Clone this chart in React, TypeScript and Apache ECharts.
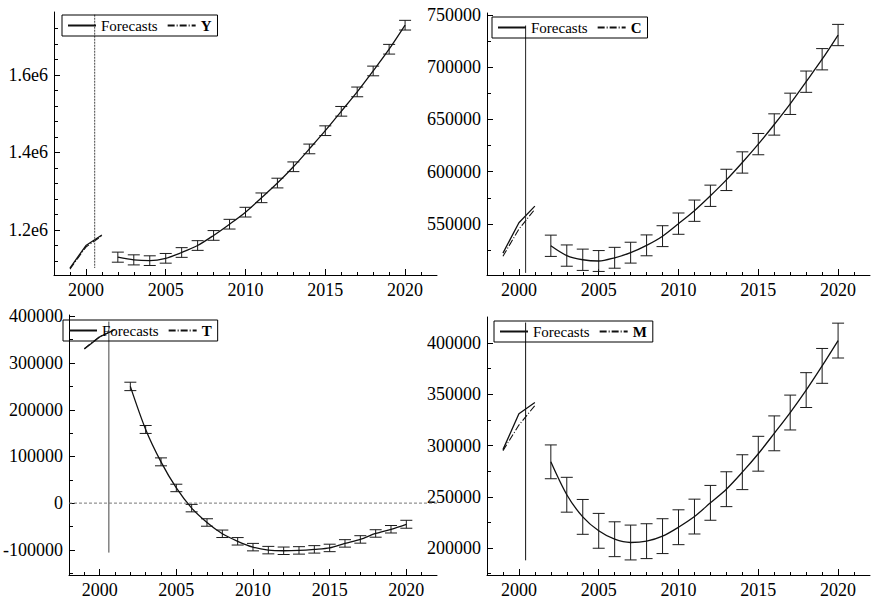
import React, { useEffect, useRef } from 'react';
import * as echarts from 'echarts';

// ---------- data ----------
const histYears = [1999, 2000, 2001];
const fcYears = [2002, 2003, 2004, 2005, 2006, 2007, 2008, 2009, 2010, 2011, 2012, 2013, 2014, 2015, 2016, 2017, 2018, 2019, 2020];

const xMajor = [2000, 2005, 2010, 2015, 2020];
const xLabels = ['2000', '2005', '2010', '2015', '2020'];
const xMinor = [1999, 2001, 2002, 2003, 2004, 2006, 2007, 2008, 2009, 2011, 2012, 2013, 2014, 2016, 2017, 2018, 2019, 2021];

// Y
const yFit = [1102000, 1160000, 1187000];
const yAct = [1099000, 1156000, 1185000];
const yFc = [1130000, 1123000, 1121000, 1127000, 1142000, 1160000, 1186000, 1215000, 1246000, 1283000, 1321000, 1363000, 1409000, 1456000, 1506000, 1556000, 1610000, 1666000, 1728000];
const ySe = [13000, 13000, 12500, 12500, 12500, 12500, 12500, 12500, 12500, 12500, 12500, 12500, 12500, 12500, 12500, 12500, 12500, 12500, 12500];

// C
const cFit = [522000, 551000, 567000];
const cAct = [519000, 545000, 564000];
const cFc = [529000, 519600, 515600, 514400, 517500, 522400, 529400, 538200, 550200, 562600, 576900, 592100, 608800, 626400, 645200, 665000, 686200, 707700, 730900];
const cSe = [10200, 10200, 10200, 10000, 10000, 10000, 10000, 10000, 10200, 10200, 10200, 10200, 10200, 10200, 10200, 10200, 10200, 10200, 10200];

// T
const tFit = [330000, 356000, 372000];
const tAct = [331000, 357000, 371000];
const tFc = [250000, 157800, 88400, 32500, -10700, -41500, -65700, -81800, -94300, -100700, -102100, -101300, -99100, -96000, -86300, -77800, -65000, -56000, -45300];
const tSe = [9000, 8500, 8500, 8000, 8000, 8000, 8000, 8000, 8000, 8000, 8000, 8000, 8000, 8000, 8000, 8000, 8000, 8000, 8500];

// M
const mFit = [296000, 331000, 342000];
const mAct = [295000, 320000, 339000];
const mFc = [284100, 252000, 230400, 216800, 208600, 205400, 206700, 211600, 220300, 230700, 244100, 257400, 274000, 292000, 311900, 332200, 354100, 377700, 402400];
const mSe = [16500, 17000, 17000, 17000, 17000, 17000, 17000, 17000, 17000, 17000, 17000, 17000, 17000, 17000, 17000, 17000, 17000, 17000, 17000];

// axis ticks / labels
const yMajorY = [1200000, 1400000, 1600000];
const yLabelsY = ['1.2e6', '1.4e6', '1.6e6'];
const yMinorY = [1120000, 1160000, 1240000, 1280000, 1320000, 1360000, 1440000, 1480000, 1520000, 1560000, 1640000, 1680000, 1720000];

const yMajorC = [550000, 600000, 650000, 700000, 750000];
const yLabelsC = ['550000', '600000', '650000', '700000', '750000'];
const yMinorC = [525000, 575000, 625000, 675000, 725000];

const yMajorT = [-100000, 0, 100000, 200000, 300000, 400000];
const yLabelsT = ['-100000', '0', '100000', '200000', '300000', '400000'];
const yMinorT = [-150000, -50000, 50000, 150000, 250000, 350000];

const yMajorM = [200000, 250000, 300000, 350000, 400000];
const yLabelsM = ['200000', '250000', '300000', '350000', '400000'];
const yMinorM = [175000, 225000, 275000, 325000, 375000];

// break line (end of sample) in data units
const breakX = [2000.55, 2000.42, 2000.6, 2000.42];
const breakTop = [1755000, 740000, 389000, 420000];
const breakBottom = [1102000, 503000, -106000, 188000];

// ---------- layout ----------
const FONT = '"Liberation Serif", "Times New Roman", serif';
const panels = [
  { v: 'Y', fit: yFit, act: yAct, fc: yFc, se: ySe, min: 1084000, max: 1762000, major: yMajorY, labels: yLabelsY, minor: yMinorY,
    grid: { left: 54, top: 12, width: 383, height: 263 }, legend: { left: 62, top: 15 }, breakStyle: { color: '#444', type: [2, 1] as any } },
  { v: 'C', fit: cFit, act: cAct, fc: cFc, se: cSe, min: 501000, max: 752000, major: yMajorC, labels: yLabelsC, minor: yMinorC,
    grid: { left: 487, top: 13, width: 383, height: 262 }, legend: { left: 492, top: 17 }, breakStyle: { color: '#222', type: 'solid' as any } },
  { v: 'T', fit: tFit, act: tAct, fc: tFc, se: tSe, min: -154000, max: 403000, major: yMajorT, labels: yLabelsT, minor: yMinorT,
    grid: { left: 54, top: 315, width: 383, height: 260 }, legend: { left: 63, top: 320 }, breakStyle: { color: '#444', type: 'solid' as any } },
  { v: 'M', fit: mFit, act: mAct, fc: mFc, se: mSe, min: 173700, max: 425400, major: yMajorM, labels: yLabelsM, minor: yMinorM,
    grid: { left: 487, top: 317, width: 383, height: 258 }, legend: { left: 494, top: 321 }, breakStyle: { color: '#111', type: 'solid' as any } },
];

function errRender(params: any, api: any) {
  const x = api.value(0);
  const lo = api.coord([x, api.value(1)]);
  const hi = api.coord([x, api.value(2)]);
  const hw = 6;
  const style = { stroke: '#1a1a1a', lineWidth: 1 };
  return {
    type: 'group',
    children: [
      { type: 'line', shape: { x1: lo[0], y1: lo[1], x2: hi[0], y2: hi[1] }, style },
      { type: 'line', shape: { x1: lo[0] - hw, y1: lo[1], x2: lo[0] + hw, y2: lo[1] }, style },
      { type: 'line', shape: { x1: hi[0] - hw, y1: hi[1], x2: hi[0] + hw, y2: hi[1] }, style },
    ],
  };
}

function buildOption() {
  const grid: any[] = [];
  const xAxis: any[] = [];
  const yAxis: any[] = [];
  const series: any[] = [];
  const legend: any[] = [];

  const xLab = (val: number) => {
    const k = xMajor.indexOf(val);
    return k >= 0 ? xLabels[k] : '';
  };

  panels.forEach((p, i) => {
    grid.push({ ...p.grid, containLabel: false });
    const lab = (val: number) => {
      const k = p.major.indexOf(val);
      return k >= 0 ? p.labels[k] : '';
    };
    xAxis.push({
      type: 'value', gridIndex: i, min: 1998, max: 2022, position: 'bottom',
      axisLine: { show: true, onZero: false, lineStyle: { color: '#000', width: 1 } },
      axisTick: { show: true, inside: true, length: 6, customValues: xMajor, lineStyle: { color: '#000' } },
      axisLabel: { show: true, customValues: xMajor, formatter: xLab, fontFamily: FONT, fontSize: 18, color: '#000', margin: 6 },
      splitLine: { show: false },
    });
    xAxis.push({
      type: 'value', gridIndex: i, min: 1998, max: 2022, position: 'bottom',
      axisLine: { show: false, onZero: false },
      axisTick: { show: true, inside: true, length: 3, customValues: xMinor, lineStyle: { color: '#000' } },
      axisLabel: { show: false },
      splitLine: { show: false },
    });
    yAxis.push({
      type: 'value', gridIndex: i, min: p.min, max: p.max, position: 'left',
      axisLine: { show: true, onZero: false, lineStyle: { color: '#000', width: 1 } },
      axisTick: { show: true, inside: true, length: 6, customValues: p.major, lineStyle: { color: '#000' } },
      axisLabel: { show: true, customValues: p.major, formatter: lab, fontFamily: FONT, fontSize: 18, color: '#000', margin: 6 },
      splitLine: { show: false },
    });
    yAxis.push({
      type: 'value', gridIndex: i, min: p.min, max: p.max, position: 'left',
      axisLine: { show: false, onZero: false },
      axisTick: { show: true, inside: true, length: 4, customValues: p.minor, lineStyle: { color: '#000' } },
      axisLabel: { show: false },
      splitLine: { show: false },
    });

    const xi = 2 * i;
    const yi = 2 * i;
    series.push({
      type: 'line', name: 'Forecasts', xAxisIndex: xi, yAxisIndex: yi, color: '#111',
      data: histYears.map((yr, k) => [yr, p.fit[k]]), symbol: 'none',
      lineStyle: { color: '#111', width: 1.3 },
    });
    series.push({
      type: 'line', name: p.v, xAxisIndex: xi, yAxisIndex: yi, color: '#111',
      data: histYears.map((yr, k) => [yr, p.act[k]]), symbol: 'none',
      lineStyle: { color: '#111', width: 1.1, type: [7, 2, 1, 2] },
    });
    series.push({
      type: 'line', name: 'Forecasts', xAxisIndex: xi, yAxisIndex: yi, color: '#111',
      data: fcYears.map((yr, k) => [yr, p.fc[k]]), symbol: 'none', smooth: 0.3,
      lineStyle: { color: '#111', width: 1.3 },
    });
    series.push({
      type: 'custom', name: 'err' + i, xAxisIndex: xi, yAxisIndex: yi,
      data: fcYears.map((yr, k) => [yr, p.fc[k] - p.se[k], p.fc[k] + p.se[k]]),
      encode: { x: 0, y: [1, 2] },
      renderItem: errRender, silent: true,
    });
    series.push({
      type: 'line', name: 'break' + i, xAxisIndex: xi, yAxisIndex: yi, silent: true,
      data: [[breakX[i], breakTop[i]], [breakX[i], breakBottom[i]]], symbol: 'none',
      lineStyle: { color: p.breakStyle.color, width: 1, type: p.breakStyle.type },
    });
    if (p.v === 'T') {
      series.push({
        type: 'line', name: 'zero', xAxisIndex: xi, yAxisIndex: yi, silent: true,
        data: [[1998, 0], [2022, 0]], symbol: 'none',
        lineStyle: { color: '#777', width: 1, type: [3, 2] },
      });
    }

    legend.push({
      show: true, left: p.legend.left, top: p.legend.top, orient: 'horizontal',
      data: [{ name: 'Forecasts' }, { name: p.v, textStyle: { fontWeight: 'bold' } }],
      itemWidth: 28, itemHeight: 10, itemGap: 9, padding: [3, 6, 3, 5],
      borderColor: '#000', borderWidth: 1, selectedMode: false,
      itemStyle: { color: 'transparent', borderColor: 'transparent', borderWidth: 0, opacity: 0 },
      textStyle: { fontFamily: FONT, fontSize: 15, color: '#000' },
    });
  });

  return {
    animation: false,
    backgroundColor: '#fff',
    grid, xAxis, yAxis, series, legend,
  };
}

export default function App() {
  const ref = useRef<HTMLDivElement>(null);
  useEffect(() => {
    if (!ref.current) return;
    const chart = echarts.init(ref.current, undefined, { renderer: 'svg' });
    chart.setOption(buildOption() as any);
    return () => chart.dispose();
  }, []);
  return (
    <div
      ref={ref}
      style={{ position: 'absolute', left: 0, top: 0, width: 877, height: 602, background: '#fff' }}
    />
  );
}
